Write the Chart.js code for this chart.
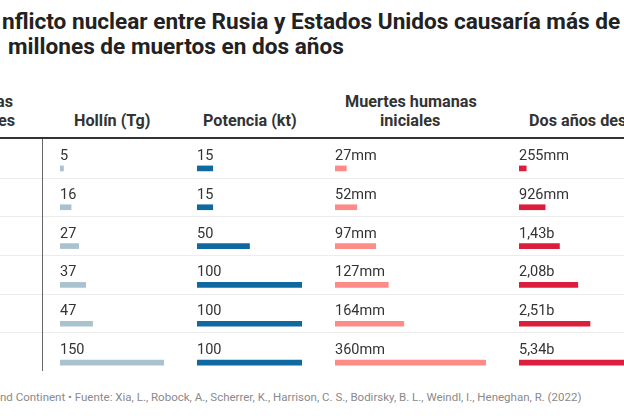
<!DOCTYPE html>
<html>
<head>
<meta charset="utf-8">
<script src="https://cdn.jsdelivr.net/npm/chart.js@4"></script>
<style>
  html, body { margin: 0; padding: 0; background: #fff; }
  body { width: 624px; height: 416px; overflow: hidden; position: relative; font-family: Roboto, "Noto Sans", sans-serif; color: #333; }
  .title { position: absolute; left: 2px; font-size: 22.6px; font-weight: 700; color: #222; white-space: nowrap; line-height: 25px; }
  .head { position: absolute; font-size: 16.2px; font-weight: 700; color: #333; white-space: nowrap; line-height: 18px; }
  .line { position: absolute; left: 0; width: 624px; height: 1px; background: #ececec; }
  .col { position: absolute; top: 138px; }
  .foot { position: absolute; left: 0; top: 390px; font-size: 11.5px; color: #8a8a8a; white-space: nowrap; }
</style>
</head>
<body>

<div class="title" style="top:9px;">nflicto nuclear entre Rusia y Estados Unidos causaría más de</div>
<div class="title" style="top:34px;left:8px;">millones de muertos en dos años</div>

<div class="head" style="right:611px;top:93px;">as</div>
<div class="head" style="right:609px;top:111.5px;">es</div>
<div class="head" style="left:74px;top:111.5px;">Hollín (Tg)</div>
<div class="head" style="left:203px;top:111.5px;">Potencia (kt)</div>
<div class="head" style="left:345px;top:93px;">Muertes humanas</div>
<div class="head" style="left:380px;top:111.5px;">iniciales</div>
<div class="head" style="left:529px;top:111.5px;">Dos años después</div>

<div class="line" style="top:137px;height:2px;background:#333;"></div>
<div class="line" style="top:178px;"></div>
<div class="line" style="top:216px;"></div>
<div class="line" style="top:255px;"></div>
<div class="line" style="top:294px;"></div>
<div class="line" style="top:332px;"></div>
<div style="position:absolute;left:42px;top:139px;width:1px;height:232px;background:#666;"></div>

<div class="col" style="left:60px;"><canvas id="hollin" width="104" height="244"></canvas></div>
<div class="col" style="left:197px;"><canvas id="potencia" width="105" height="244"></canvas></div>
<div class="col" style="left:335px;"><canvas id="muertes" width="151" height="244"></canvas></div>
<div class="col" style="left:519px;"><canvas id="dosAnios" width="151" height="244"></canvas></div>

<div class="foot">nd Continent • Fuente: Xia, L., Robock, A., Scherrer, K., Harrison, C. S., Bodirsky, B. L., Weindl, I., Heneghan, R. (2022)</div>

<script>
// one entry per scenario (row)
const rows = ['1', '2', '3', '4', '5', '6'];
const hollin = [5, 16, 27, 37, 47, 150];            // Tg
const potencia = [15, 15, 50, 100, 100, 100];       // kt
const muertesIniciales = [27, 52, 97, 127, 164, 360];      // millones
const dosAniosDespues = [255, 926, 1430, 2080, 2510, 5340]; // millones

const colors = {
    hollin: '#a9c2cf',
    potencia: '#0f69a1',
    muertes: '#ff8b88',
    dosAnios: '#dc1e3c'
};

function fmtPlain(v) { return String(v); }
function fmtMillions(v) {
    if (v < 1000) return v + 'mm';
    return (v / 1000).toFixed(2).replace('.', ',') + 'b';
}

// writes the value above each bar, from the bar's own base
const valueLabels = {
    id: 'valueLabels',
    afterDatasetsDraw(chart, args, opts) {
        const ctx = chart.ctx;
        const meta = chart.getDatasetMeta(0);
        const data = chart.data.datasets[0].data;
        ctx.save();
        ctx.font = '14.5px Roboto, "Noto Sans", sans-serif';
        ctx.fillStyle = '#333';
        ctx.textBaseline = 'alphabetic';
        ctx.textAlign = 'left';
        meta.data.forEach(function (bar, i) {
            ctx.fillText(opts.format(data[i]), bar.base, bar.y - 8.5);
        });
        ctx.restore();
    }
};

function drawColumn(canvasId, values, color, max, format) {
    let ctx = document.getElementById(canvasId).getContext('2d');
    return new Chart(ctx, {
        type: 'bar',
        data: {
            labels: rows,
            datasets: [{
                data: values,
                backgroundColor: color,
                borderWidth: 0,
                barThickness: 5
            }]
        },
        options: {
            indexAxis: 'y',
            responsive: false,
            animation: false,
            layout: { padding: { top: 11, left: 0, right: 0, bottom: 0 } },
            scales: {
                x: { display: false, min: 0, max: max },
                y: { display: false }
            },
            plugins: {
                legend: { display: false },
                tooltip: { enabled: false },
                valueLabels: { format: format }
            }
        },
        plugins: [valueLabels]
    });
}

drawColumn('hollin', hollin, colors.hollin, 150, fmtPlain);
drawColumn('potencia', potencia, colors.potencia, 100, fmtPlain);
drawColumn('muertes', muertesIniciales, colors.muertes, 360, fmtMillions);
drawColumn('dosAnios', dosAniosDespues, colors.dosAnios, 5340, fmtMillions);
</script>
</body>
</html>
